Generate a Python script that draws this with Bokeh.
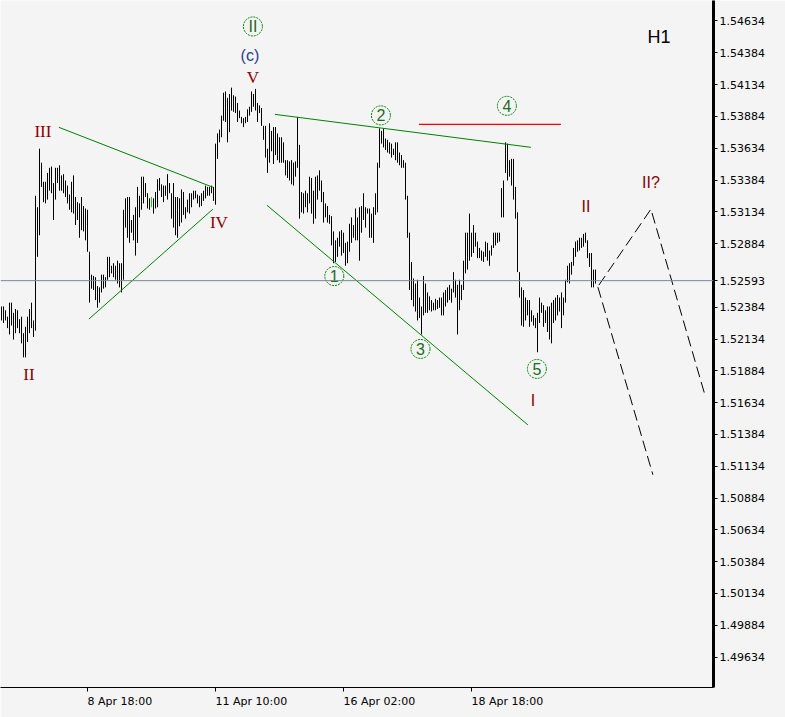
from bokeh.plotting import figure
from bokeh.models import ColumnDataSource, FixedTicker, PrintfTickFormatter, Span, Range1d
from bokeh.core.properties import value
from bokeh.embed import file_html
from bokeh.resources import INLINE

# ---------------- data (H1 bars: high / low prices) ----------------
high = [
    1.5239, 1.5239, 1.5236, 1.5231, 1.5242, 1.5242, 1.5234, 1.5237, 1.5236, 1.5229,
    1.5231, 1.5218, 1.5223, 1.5231, 1.5237, 1.5242, 1.5228, 1.5326, 1.5317, 1.5363,
    1.5352, 1.5337, 1.5337, 1.5344, 1.5348, 1.5349, 1.5336, 1.5348, 1.5348, 1.5350,
    1.5342, 1.5343, 1.5338, 1.5334, 1.5327, 1.5337, 1.5342, 1.5325, 1.5321, 1.5320,
    1.5325, 1.5318, 1.5316, 1.5315, 1.5282, 1.5264, 1.5263, 1.5262, 1.5255, 1.5254,
    1.5264, 1.5264, 1.5262, 1.5278, 1.5278, 1.5271, 1.5273, 1.5271, 1.5275, 1.5273,
    1.5273, 1.5315, 1.5324, 1.5325, 1.5325, 1.5307, 1.5311, 1.5317, 1.5333, 1.5326,
    1.5341, 1.5341, 1.5336, 1.5328, 1.5324,
    1.5325, 1.5324, 1.5329, 1.5339, 1.5340,
    1.5335, 1.5334, 1.5334, 1.5343, 1.5336, 1.5328, 1.5336, 1.5325, 1.5325, 1.5324,
    1.5331, 1.5329, 1.5317, 1.5323, 1.5328, 1.5328, 1.5330, 1.5330, 1.5327, 1.5326,
    1.5328, 1.5330, 1.5334, 1.5333, 1.5333, 1.5334, 1.5333, 1.5367, 1.5375, 1.5378,
    1.5389, 1.5407, 1.5408, 1.5403, 1.5406, 1.5411, 1.5405, 1.5404, 1.5399, 1.5393,
    1.5388, 1.5387, 1.5388, 1.5394, 1.5396, 1.5408, 1.5406, 1.5410, 1.5399, 1.5397,
    1.5395, 1.5381, 1.5381, 1.5363, 1.5383, 1.5377, 1.5380, 1.5380, 1.5375, 1.5372,
    1.5372, 1.5368, 1.5354, 1.5354, 1.5353, 1.5354, 1.5352, 1.5353,
    1.5388, 1.5366,
    1.5329, 1.5328, 1.5330, 1.5328, 1.5341, 1.5340, 1.5330, 1.5341, 1.5342, 1.5346,
    1.5338, 1.5329, 1.5320, 1.5318, 1.5311, 1.5310, 1.5298, 1.5291, 1.5293, 1.5298,
    1.5299, 1.5297, 1.5289, 1.5290, 1.5304, 1.5309, 1.5303, 1.5316, 1.5309, 1.5317,
    1.5318, 1.5328, 1.5317, 1.5316, 1.5316, 1.5312, 1.5317, 1.5328, 1.5352, 1.5379,
    1.5377, 1.5379, 1.5371, 1.5370, 1.5368, 1.5367, 1.5363, 1.5368, 1.5368, 1.5360,
    1.5358, 1.5354, 1.5352, 1.5326, 1.5297, 1.5274, 1.5261, 1.5257, 1.5260, 1.5246,
    1.5239, 1.5263, 1.5257, 1.5250, 1.5247, 1.5244, 1.5242, 1.5245, 1.5244, 1.5246,
    1.5246, 1.5250, 1.5252, 1.5254, 1.5256, 1.5253, 1.5266, 1.5260, 1.5256, 1.5260,
    1.5256, 1.5275, 1.5297, 1.5297, 1.5312, 1.5297, 1.5303, 1.5297, 1.5290, 1.5285,
    1.5283, 1.5282, 1.5290, 1.5289, 1.5283, 1.5287, 1.5297, 1.5297, 1.5297, 1.5297,
    1.5332, 1.5338, 1.5368, 1.5367, 1.5354, 1.5355, 1.5355, 1.5333, 1.5313, 1.5266,
    1.5254, 1.5252, 1.5246, 1.5244, 1.5244, 1.5236, 1.5232, 1.5230, 1.5234, 1.5246,
    1.5242, 1.5240, 1.5236, 1.5239, 1.5239, 1.5242, 1.5244, 1.5246, 1.5248, 1.5246,
    1.5250, 1.5246, 1.5260, 1.5271, 1.5273, 1.5274, 1.5285, 1.5290, 1.5291, 1.5293,
    1.5293, 1.5296, 1.5297, 1.5291, 1.5281, 1.5281, 1.5268, 1.5268,
]
low = [
    1.5228, 1.5226, 1.5228, 1.5222, 1.5217, 1.5224, 1.5213, 1.5218, 1.5222, 1.5218,
    1.5210, 1.5199, 1.5199, 1.5211, 1.5218, 1.5222, 1.5215, 1.5220, 1.5278, 1.5295,
    1.5333, 1.5321, 1.5320, 1.5323, 1.5330, 1.5328, 1.5307, 1.5323, 1.5336, 1.5330,
    1.5330, 1.5328, 1.5325, 1.5320, 1.5315, 1.5313, 1.5312, 1.5303, 1.5307, 1.5293,
    1.5299, 1.5298, 1.5291, 1.5282, 1.5242, 1.5253, 1.5252, 1.5244, 1.5238, 1.5242,
    1.5250, 1.5253, 1.5254, 1.5260, 1.5262, 1.5265, 1.5262, 1.5260, 1.5257, 1.5254,
    1.5250, 1.5260, 1.5301, 1.5293, 1.5289, 1.5297, 1.5291, 1.5279, 1.5289, 1.5309,
    1.5315, 1.5320, 1.5325, 1.5316, 1.5315,
    1.5317, 1.5312, 1.5316, 1.5317, 1.5330,
    1.5325, 1.5321, 1.5326, 1.5323, 1.5328, 1.5308, 1.5301, 1.5295, 1.5293, 1.5302,
    1.5305, 1.5311, 1.5308, 1.5313, 1.5312, 1.5317, 1.5323, 1.5324, 1.5320, 1.5317,
    1.5318, 1.5322, 1.5324, 1.5326, 1.5326, 1.5328, 1.5322, 1.5319, 1.5355, 1.5368,
    1.5372, 1.5385, 1.5384, 1.5368, 1.5376, 1.5393, 1.5392, 1.5391, 1.5384, 1.5387,
    1.5383, 1.5380, 1.5383, 1.5384, 1.5389, 1.5392, 1.5396, 1.5393, 1.5384, 1.5391,
    1.5381, 1.5370, 1.5356, 1.5344, 1.5352, 1.5361, 1.5351, 1.5358, 1.5354, 1.5352,
    1.5352, 1.5352, 1.5342, 1.5340, 1.5338, 1.5335, 1.5334, 1.5341,
    1.5348, 1.5308,
    1.5313, 1.5312, 1.5317, 1.5313, 1.5320, 1.5312, 1.5304, 1.5308, 1.5323, 1.5330,
    1.5321, 1.5305, 1.5309, 1.5305, 1.5304, 1.5287, 1.5273, 1.5274, 1.5278, 1.5286,
    1.5279, 1.5281, 1.5271, 1.5273, 1.5282, 1.5289, 1.5293, 1.5291, 1.5291, 1.5275,
    1.5297, 1.5307, 1.5301, 1.5312, 1.5293, 1.5293, 1.5289, 1.5311, 1.5313, 1.5348,
    1.5367, 1.5364, 1.5362, 1.5360, 1.5359, 1.5356, 1.5358, 1.5354, 1.5352, 1.5350,
    1.5348, 1.5348, 1.5323, 1.5293, 1.5252, 1.5244, 1.5239, 1.5235, 1.5228, 1.5230,
    1.5217, 1.5232, 1.5234, 1.5234, 1.5236, 1.5235, 1.5236, 1.5236, 1.5237, 1.5238,
    1.5232, 1.5232, 1.5239, 1.5242, 1.5244, 1.5242, 1.5250, 1.5246, 1.5217, 1.5236,
    1.5244, 1.5252, 1.5265, 1.5268, 1.5275, 1.5278, 1.5281, 1.5286, 1.5277, 1.5277,
    1.5275, 1.5274, 1.5278, 1.5275, 1.5271, 1.5279, 1.5285, 1.5287, 1.5289, 1.5290,
    1.5309, 1.5309, 1.5344, 1.5338, 1.5341, 1.5334, 1.5323, 1.5308, 1.5266, 1.5246,
    1.5224, 1.5223, 1.5228, 1.5232, 1.5223, 1.5227, 1.5224, 1.5222, 1.5203, 1.5226,
    1.5234, 1.5223, 1.5226, 1.5219, 1.5213, 1.5210, 1.5226, 1.5228, 1.5232, 1.5235,
    1.5222, 1.5232, 1.5242, 1.5258, 1.5257, 1.5264, 1.5271, 1.5278, 1.5282, 1.5283,
    1.5285, 1.5286, 1.5289, 1.5277, 1.5270, 1.5254, 1.5254, 1.5257,
]
last_price = 1.52593
highlight_bar = 75

# price scale: the 1.52634 level is covered by the current-price tag in the terminal
price_ticks = [1.49634, 1.49884, 1.50134, 1.50384, 1.50634, 1.50884, 1.51134, 1.51384,
               1.51634, 1.51884, 1.52134, 1.52384, 1.52593, 1.52884, 1.53134, 1.53384,
               1.53634, 1.53884, 1.54134, 1.54384, 1.54634]
time_tick_bars = [43, 107, 171, 235]
time_tick_labels = ["8 Apr 18:00", "11 Apr 10:00", "16 Apr 02:00", "18 Apr 18:00"]

# trend lines (bar index, price)
trend_x0 = [28.7, 43.7, 136.7, 132.7]
trend_y0 = [1.53798, 1.52291, 1.53900, 1.53186]
trend_x1 = [105.7, 105.7, 264.7, 263.2]
trend_y1 = [1.53327, 1.53155, 1.53641, 1.51459]
red_x = [208.7, 279.7]
red_y = [1.53822, 1.53822]
proj_a_x = [298.7, 324.7, 351.7]
proj_a_y = [1.52558, 1.53155, 1.51695]
proj_b_x = [298.2, 325.7]
proj_b_y = [1.52542, 1.51067]

# wave labels
serif_text = ["III", "II", "IV", "V"]
serif_x = [20.7, 13.7, 108.7, 125.7]
serif_y = [1.53767, 1.51859, 1.53053, 1.54191]
sans_text = ["I", "II", "II?"]
sans_x = [265.7, 292.2, 324.7]
sans_y = [1.51647, 1.53178, 1.53366]
circ_text = ["II", "1", "2", "3", "4", "5"]
circ_x = [125.7, 166.4, 189.7, 209.5, 252.7, 267.7]
circ_y = [1.54591, 1.52629, 1.53892, 1.52056, 1.53967, 1.51899]
sub_text = ["(c)"]
sub_x = [124.2]
sub_y = [1.54363]

BG = "#f4f4f4"
X0, X1 = -0.5, 356.0
Y0, Y1 = 1.49395, 1.54795

p = figure(width=785, height=717, x_range=Range1d(X0, X1), y_range=Range1d(Y0, Y1),
           output_backend="svg", toolbar_location=None, y_axis_location="right",
           min_border_left=0, min_border_top=0, min_border_right=72, min_border_bottom=29,
           background_fill_color=BG, border_fill_color=BG)
p.grid.visible = False
p.outline_line_color = None

ya = p.yaxis[0]
ya.ticker = FixedTicker(ticks=price_ticks)
ya.formatter = PrintfTickFormatter(format="%.5f")
ya.major_label_text_font = "DejaVu Sans"
ya.major_label_text_font_size = "11px"
ya.major_label_text_color = "black"
ya.major_tick_out = 4
ya.major_tick_in = 0
ya.minor_tick_line_color = None
ya.axis_line_width = 3
ya.axis_line_color = "black"
ya.major_label_standoff = 2

xa = p.xaxis[0]
xa.ticker = FixedTicker(ticks=time_tick_bars)
xa.major_label_overrides = {b: t for b, t in zip(time_tick_bars, time_tick_labels)}
xa.major_label_text_font = "DejaVu Sans"
xa.major_label_text_font_size = "11px"
xa.major_label_text_color = "black"
xa.major_label_orientation = -0.0001   # tiny angle -> labels start at their tick
xa.major_tick_out = 4
xa.major_tick_in = 0
xa.minor_tick_line_color = None
xa.axis_line_color = "black"
xa.major_label_standoff = 10

bar_x = list(range(len(high)))
bar_color = ["black"] * len(high)
bar_color[highlight_bar] = "#00dd00"
src = ColumnDataSource(dict(x=bar_x, high=high, low=low, color=bar_color))
p.segment(x0="x", y0="low", x1="x", y1="high", source=src, line_color="color", line_width=1)

p.add_layout(Span(location=last_price, dimension="width", line_color="#778899", line_width=1))

p.segment(x0=trend_x0, y0=trend_y0, x1=trend_x1, y1=trend_y1, line_color="#008000", line_width=1)
p.line(red_x, red_y, line_color="#ff0000", line_width=1.3)
p.line(proj_a_x, proj_a_y, line_color="black", line_width=1, line_dash="11 5")
p.line(proj_b_x, proj_b_y, line_color="black", line_width=1, line_dash="11 5")

p.text(serif_x, serif_y, text=serif_text, text_font=value("Liberation Serif"), text_font_size="17px",
       text_color="#8b0000", text_align="center", text_baseline="middle")
p.text(sans_x, sans_y, text=sans_text, text_font=value("Liberation Sans"), text_font_size="16px",
       text_color="#8b0000", text_align="center", text_baseline="middle")
p.text(sub_x, sub_y, text=sub_text, text_font=value("Liberation Sans"), text_font_size="16px",
       text_color="#27408b", text_align="center", text_baseline="middle")
p.scatter(circ_x, circ_y, marker="circle", size=19, fill_color=None, line_color="#008000",
          line_width=1, line_dash="2 1")
p.text(circ_x, circ_y, text=circ_text, text_font=value("Liberation Sans"), text_font_size="16px",
       text_color="#1e6a1e", text_align="center", text_baseline="middle")
p.text([328.7], [1.54512], text=["H1"], text_font=value("Liberation Sans"), text_font_size="18px",
       text_color="black", text_align="center", text_baseline="middle")

open("out.html", "w").write(file_html(p, INLINE))
